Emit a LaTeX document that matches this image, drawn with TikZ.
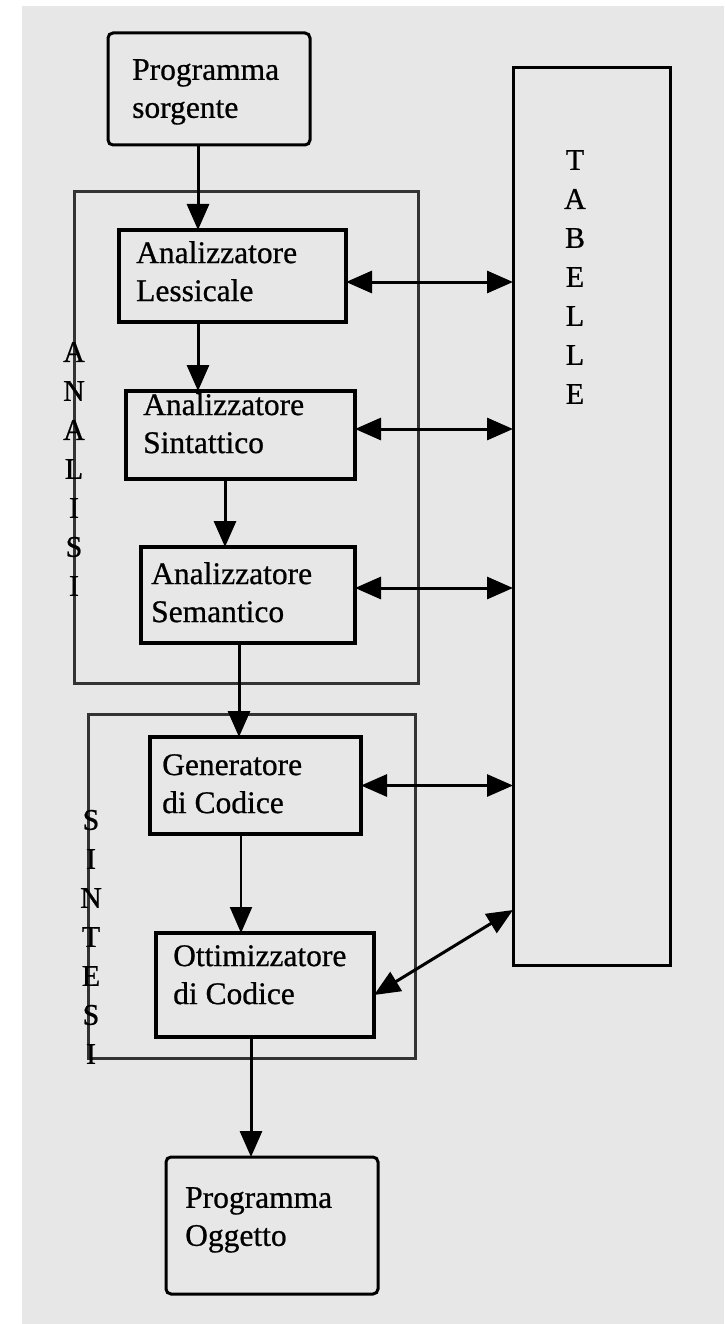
\documentclass[tikz,border=0pt]{standalone}
\usepackage{fontspec}
\setmainfont{Liberation Serif}
\newfontfamily\printfont{Liberation Serif}[FakeBold=0.7]
\usetikzlibrary{arrows.meta}
\definecolor{paper}{RGB}{231,231,231}
\begin{document}
\begin{tikzpicture}[x=1pt,y=-1pt,
  stage/.style={draw=black, line width=3.5pt, fill=paper, inner sep=0pt, outer sep=0pt, anchor=north west},
  endbox/.style={stage, line width=3pt, rounded corners=5pt},
  group/.style={draw=black!80, line width=3pt, inner sep=0pt, outer sep=0pt, anchor=north west},
  lbl/.style={font=\printfont\fontsize{31.5}{38}\selectfont, align=left, anchor=north west, inner sep=0pt},
  letter/.style={font=\printfont\fontsize{30}{30}\selectfont, inner sep=0pt},
  tip/.tip={Triangle[length=26pt,width=22pt]},
  flow/.style={line width=3pt, -tip},
  link/.style={line width=3pt, tip-tip},
]
\useasboundingbox (0,0) rectangle (724,1324);
% paper
\fill[white] (0,0) rectangle (724,1324);
\fill[paper] (22,6) rectangle (724,1324);

% phase groups
\node[group, minimum width=344pt, minimum height=491pt] (analisi) at (74,192) {};
\node[group, minimum width=327pt, minimum height=344pt] (sintesi) at (88,714) {};

% tables column
\node[stage, line width=3pt, minimum width=157pt, minimum height=897pt] (tab) at (513,68) {};
\foreach \c [count=\i] in {T,A,B,E,L,L,E}
  \node[letter] (tab-\i) at (575,121+39*\i) {\c};

% stages
\node[endbox, minimum width=202pt, minimum height=112pt] (src) at (108,33) {};
\node[stage, minimum width=227pt, minimum height=92pt] (lex) at (119,230) {};
\node[stage, minimum width=229pt, minimum height=88pt] (syn) at (126,391) {};
\node[stage, minimum width=214pt, minimum height=96pt] (sem) at (141,547) {};
\node[stage, minimum width=211pt, minimum height=97pt] (gen) at (150,737) {};
\node[stage, minimum width=218pt, minimum height=104pt] (opt) at (156,933) {};
\node[endbox, minimum width=212pt, minimum height=137pt] (obj) at (166,1157) {};

\node[lbl] (src-t) at (132,59) {Programma\\sorgente};
\node[lbl] (lex-t) at (136,241) {Analizzatore\\Lessicale};
\node[lbl] (syn-t) at (143,393) {Analizzatore\\Sintattico};
\node[lbl] (sem-t) at (151,562) {Analizzatore\\Semantico};
\node[lbl] (gen-t) at (162,754) {Generatore\\di Codice};
\node[lbl] (opt-t) at (173,945) {Ottimizzatore\\di Codice};
\node[lbl] (obj-t) at (185,1187) {Programma\\Oggetto};

% vertical phase labels
\foreach \c [count=\i] in {A,N,A,L,I,S,I}
  \node[letter] (an-\i) at (74,313+39*\i) {\c};
\foreach \c [count=\i] in {S,I,N,T,E,S,I}
  \node[letter] (si-\i) at (91,781+39*\i) {\c};

% main flow
\draw[flow] ([xshift=-11pt]src.south) -- ([xshift=-11pt]src.south |- lex.north);
\draw[flow] ([xshift=-34.5pt]lex.south) -- ([xshift=-34.5pt]lex.south |- syn.north);
\draw[flow] ([xshift=-15.5pt]syn.south) -- ([xshift=-15.5pt]syn.south |- sem.north);
\draw[flow] ([xshift=-9pt]sem.south) -- ([xshift=-9pt]sem.south |- gen.north);
\draw[flow, line width=2pt] ([xshift=-14.5pt]gen.south) -- ([xshift=-14.5pt]gen.south |- opt.north);
\draw[flow] ([xshift=-14pt]opt.south) -- ([xshift=-14pt]opt.south |- obj.north);

% exchanges with the tables
\draw[link] ([yshift=-6pt]lex.east) -- ([yshift=-6pt]lex.east -| tab.west);
\draw[link] ([yshift=6pt]syn.east) -- ([yshift=6pt]syn.east -| tab.west);
\draw[link] ([yshift=7pt]sem.east) -- ([yshift=7pt]sem.east -| tab.west);
\draw[link] (gen.east) -- (gen.east -| tab.west);
\draw[link] ([yshift=-10pt]opt.east) -- ([yshift=55pt]tab.south west);
\end{tikzpicture}
\end{document}
